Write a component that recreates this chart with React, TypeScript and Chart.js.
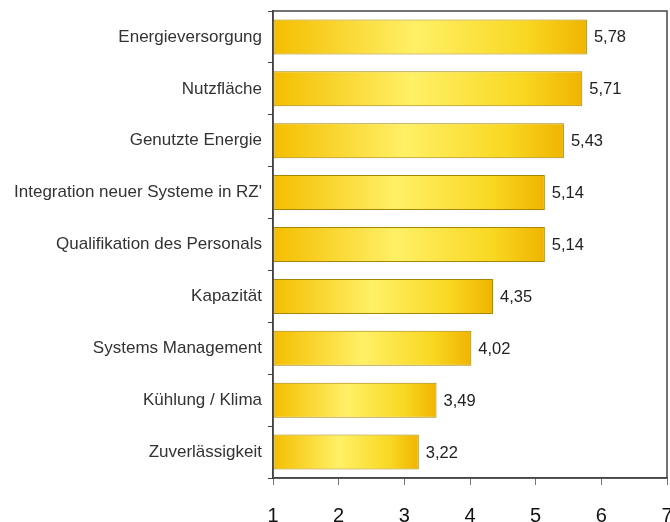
import React, { useEffect, useRef } from "react";
import { Chart, registerables } from "chart.js";

Chart.register(...registerables);

const categories = [
  "Energieversorgung",
  "Nutzfläche",
  "Genutzte Energie",
  "Integration neuer Systeme in RZ'",
  "Qualifikation des Personals",
  "Kapazität",
  "Systems Management",
  "Kühlung / Klima",
  "Zuverlässigkeit",
];
const values = [5.78, 5.71, 5.43, 5.14, 5.14, 4.35, 4.02, 3.49, 3.22];
const axisMin = 1;
const axisMax = 7;

const fmt = (v: number) => v.toFixed(2).replace(".", ",");

export default function App() {
  const ref = useRef<HTMLCanvasElement | null>(null);

  useEffect(() => {
    document.body.style.margin = "0";
    const canvas = ref.current;
    if (!canvas) return;

    const framePlugin = {
      id: "frame",
      afterDatasetsDraw(chart: any) {
        const { ctx, chartArea } = chart;
        const meta = chart.getDatasetMeta(0);
        ctx.save();
        ctx.font = '16.5px "Liberation Sans", Arial, sans-serif';
        ctx.fillStyle = "#222";
        ctx.textAlign = "left";
        ctx.textBaseline = "middle";
        meta.data.forEach((bar: any, i: number) => {
          ctx.fillText(fmt(values[i]), bar.x + 7, bar.y + 1);
        });
        ctx.strokeStyle = "#444";
        ctx.lineWidth = 1.5;
        ctx.strokeRect(
          chartArea.left,
          chartArea.top,
          chartArea.right - chartArea.left,
          chartArea.bottom - chartArea.top
        );
        ctx.restore();
      },
    };

    const chart = new Chart(canvas, {
      type: "bar",
      data: {
        labels: categories,
        datasets: [
          {
            data: values,
            base: axisMin,
            barPercentage: 1,
            categoryPercentage: 0.675,
            borderWidth: 1,
            borderColor: "#A88600",
            borderSkipped: false,
            backgroundColor: (c: any) => {
              const chart = c.chart;
              if (!chart.chartArea || c.raw == null) return "#F5C800";
              const xs = chart.scales.x;
              const x0 = xs.getPixelForValue(axisMin);
              const x1 = xs.getPixelForValue(c.raw);
              const g = chart.ctx.createLinearGradient(x0, 0, x1, 0);
              g.addColorStop(0, "#F4BE00");
              g.addColorStop(0.45, "#FFF066");
              g.addColorStop(0.8, "#F9D823");
              g.addColorStop(1, "#F0B400");
              return g;
            },
          } as any,
        ],
      },
      options: {
        indexAxis: "y",
        animation: false,
        responsive: false,
        layout: { padding: { top: 11, right: 3, left: 0, bottom: 0 } },
        plugins: {
          legend: { display: false },
          tooltip: { enabled: false },
        },
        scales: {
          x: {
            min: axisMin,
            max: axisMax,
            ticks: {
              stepSize: 1,
              color: "#111",
              padding: 19,
              font: { family: '"Liberation Sans", Arial, sans-serif', size: 20 },
            },
            grid: {
              drawOnChartArea: false,
              drawTicks: true,
              tickLength: 7,
              color: "#777",
            },
            border: { display: true, color: "#444", width: 1.5 },
            afterFit: (s: any) => {
              s.height = 44;
              s.paddingLeft = 0;
              s.paddingRight = 0;
            },
          },
          y: {
            ticks: {
              color: "#333",
              padding: 6,
              font: { family: '"Liberation Sans", Arial, sans-serif', size: 17 },
            },
            grid: {
              drawOnChartArea: false,
              drawTicks: true,
              tickLength: 5,
              offset: true,
              color: "#444",
            },
            border: { display: true, color: "#444", width: 1.5 },
            afterFit: (s: any) => {
              s.width = 273;
              s.paddingTop = 0;
              s.paddingBottom = 0;
            },
          },
        },
      } as any,
      plugins: [framePlugin],
    });

    return () => chart.destroy();
  }, []);

  return (
    <div style={{ width: 670, height: 522 }}>
      <canvas ref={ref} width={670} height={522} style={{ display: "block" }} />
    </div>
  );
}
